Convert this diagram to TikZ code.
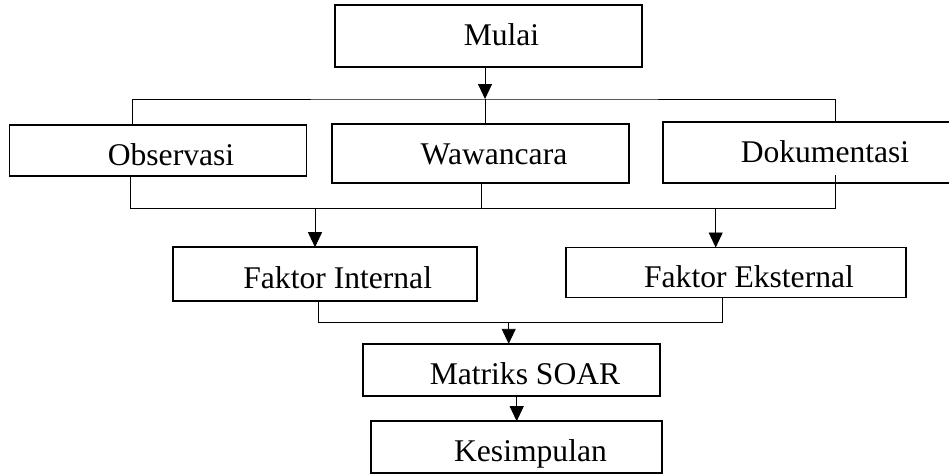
\documentclass[tikz,border=0pt]{standalone}
\usepackage{fontspec}
\setmainfont{Liberation Serif}
\usetikzlibrary{arrows.meta}

\begin{document}
\begin{tikzpicture}[x=1pt, y=-1pt, >={Triangle[length=15pt,width=14pt]},
	kotak/.style={draw, line width=1.8pt, inner sep=0pt, outer sep=0pt},
	tulisan/.style={anchor=base, inner sep=0pt, font=\fontsize{31.6}{36}\selectfont},
	garis/.style={line width=0.9pt}]
	\useasboundingbox (0,0) rectangle (949,474);
	% Kotak-kotak (nama/pusat x/pusat y/lebar/tinggi)
	\foreach \nm/\cx/\cy/\w/\h in {mulai/488.5/36/307/62, obs/158/150.5/297/51,
		waw/480.2/153.7/297/59, dok/809/152.8/292/61, fi/324.7/274.2/304/54,
		fe/736.2/272.5/340/50, soar/511.7/369.8/297/52, kes/516.7/447.2/291/52} {
		\node[kotak, minimum width=\w pt, minimum height=\h pt] (\nm) at (\cx,\cy) {};
	}
	% Tulisan di dalam kotak
	\foreach \nm/\tx/\ty/\isi in {mulai/501.5/45/Mulai, obs/171/165/Observasi,
		waw/494/164/Wawancara, dok/825/162.7/Dokumentasi, fi/337.7/288.3/Faktor Internal,
		fe/749/287.3/Faktor Eksternal, soar/525/384.3/Matriks SOAR, kes/530.5/461.8/Kesimpulan} {
		\node[tulisan] (\nm-t) at (\tx,\ty) {\isi};
	}
	% Dari Mulai ke tiga teknik
	\coordinate (bus1) at (485,99);
	\draw[garis,->] (mulai.south -| bus1) -- (bus1);
	\draw[garis] ([xshift=-25.3pt]obs.north) |- (bus1) -| ([xshift=26.7pt]dok.north);
	\draw[garis] (bus1) -- (bus1 |- waw.north);
	% Dari tiga teknik ke faktor
	\coordinate (bus2) at (481.5,208.7);
	\draw[garis] ([xshift=-27.3pt]obs.south) |- (bus2) -| ([xshift=26.7pt,yshift=8pt]dok.south);
	\draw[garis] (waw.south -| bus2) -- (bus2);
	\coordinate (fi-in) at ([xshift=-9.7pt]fi.north);
	\coordinate (fe-in) at ([xshift=-20.5pt]fe.north);
	\draw[garis,->] (bus2 -| fi-in) -- (fi-in);
	\draw[garis,->] (bus2 -| fe-in) -- (fe-in);
	% Gabungan ke Matriks SOAR lalu Kesimpulan
	\coordinate (bus3) at (508.7,322.7);
	\draw[garis] ([xshift=-6pt]fi.south) |- (bus3) -| ([xshift=-13.9pt]fe.south);
	\draw[garis,->] (bus3) -- (bus3 |- soar.north);
	\draw[garis,->] (kes.north |- soar.south) -- (kes.north);
\end{tikzpicture}
\end{document}
